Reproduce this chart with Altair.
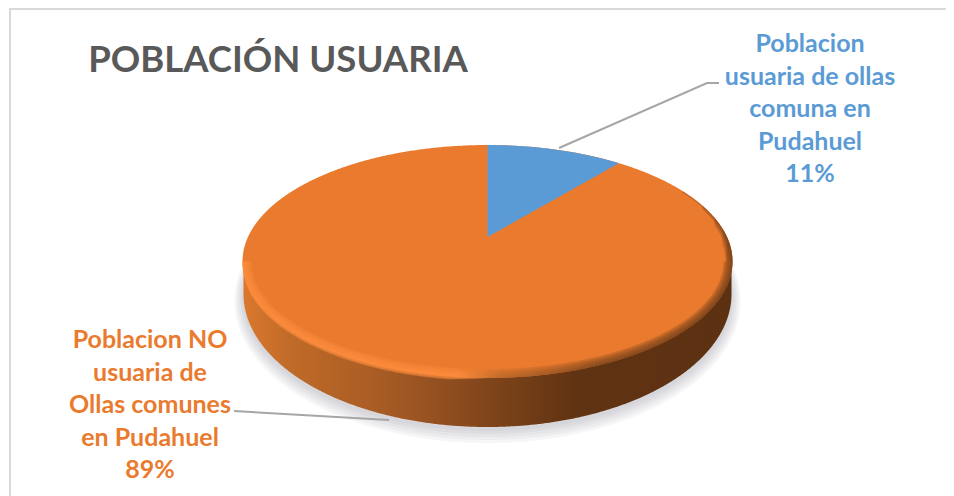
import numpy as np
import pandas as pd
import altair as alt

# ---- data
categories = ["Poblacion usuaria de ollas comuna en Pudahuel", "Poblacion NO usuaria de Ollas comunes en Pudahuel"]
shares = [11, 89]
label_lines = [
    ["Poblacion", "usuaria de ollas", "comuna en", "Pudahuel", "11%"],
    ["Poblacion NO", "usuaria de", "Ollas comunes", "en Pudahuel", "89%"],
]
chart_title = "POBLACIÓN USUARIA"
BLUE, ORANGE = "#5B9BD5", "#EA7B2E"

# ---- layout in page pixels
W, H = 938, 488
X0, Y0 = 8, 8
CX = 487.5
RX, CY, RY = 245.0, 261.5, 116.5      # top face ellipse
APEX_Y = 237.0                        # perspective image of the pie centre
K = 0.21                              # perspective strength
RX2, CY2, RY2 = 244.0, 294.0, 133.0   # bottom rim ellipse

xs = alt.Scale(domain=[X0, X0 + W], nice=False, zero=False)
ys = alt.Scale(domain=[Y0 + H, Y0], nice=False, zero=False)


def X(f="x"):
    return alt.X(f"{f}:Q", scale=xs, axis=None)


def Y(f="y"):
    return alt.Y(f"{f}:Q", scale=ys, axis=None)


def grid(rx, n=500):
    t = np.linspace(np.pi, 0, n)
    return rx * np.cos(t)


def arc(dx, rx, ry):
    return ry * np.sqrt(np.clip(1 - (dx / rx) ** 2, 0, 1))


def band(dx, top, bottom):
    return pd.DataFrame({"x": CX + dx, "y": top, "y2": bottom})


def area(df, **kw):
    return alt.Chart(df).mark_area(**kw).encode(x=X(), y=Y(), y2=alt.Y2("y2:Q"))


def hgrad(stops):
    return alt.LinearGradient(
        gradient="linear", x1=0, x2=1, y1=0, y2=0,
        stops=[alt.GradientStop(offset=o, color=c) for o, c in stops],
    )


layers = []

# soft shadow under the disc
for grow, drop in [(9, 7), (7, 6), (5, 5), (3, 4), (1, 3)]:
    dx = grid(RX2 + grow)
    h = arc(dx, RX2 + grow, RY2 + grow)
    layers.append(area(band(dx, CY2 - h + drop, CY2 + h + drop), color="#7C8090", opacity=0.07))

# side wall
dx = grid(RX2)
wall = hgrad([(0.0, "#DA782E"), (0.1, "#BF6A28"), (0.3, "#A55A24"), (0.5, "#80451B"), (0.68, "#603312"), (1.0, "#5C3112")])
layers.append(area(band(dx, np.full_like(dx, CY), CY2 + arc(dx, RX2, RY2)), color=wall))

# top face
dx = grid(RX)
h = arc(dx, RX, RY)
layers.append(area(band(dx, CY - h, CY + h), color=ORANGE))

# bevel along the near edge of the top face: bright on the left, dark on the right
rim = hgrad([(0.0, "#FF8E3E"), (0.44, "#FF8E3E"), (0.53, "#B8662A"), (0.72, "#7A431A"), (1.0, "#6E3C18")])
for t, spill in [(9, 0.0), (7, 1.0), (5, 2.0), (3, 2.5), (1.5, 3.0)]:
    dx = grid(RX)
    outer = arc(dx, RX, RY)
    inner = arc(dx, RX - t, RY - t)
    left = np.clip(-dx / 40, 0, 1) * np.clip(outer / 25, 0, 1)
    layers.append(area(band(dx, CY + inner, CY + outer + spill * left), color=rim, opacity=0.3))

# dark edge continuing up the far right of the top face, tapering away
for t, reach in [(9, 6), (7, 10), (5, 18), (3, 30), (1.5, 50)]:
    dx = np.linspace(RX - reach, RX, 120)
    outer = arc(dx, RX, RY)
    inner = arc(dx, RX - t, RY - t)
    layers.append(area(band(dx, CY - outer, CY - inner), color="#6E3C18", opacity=0.3))

# blue wedge: the share goes through the perspective of the tilted circle
R = RX * np.sqrt(1 - K ** 2)
a = 145 * (1 + K) - APEX_Y
theta = np.linspace(0, 2 * np.pi * shares[0] / 100, 80)
den = 1 + K * np.cos(theta)
wx = R * np.sin(theta) / den
wy = (a * np.cos(theta) + APEX_Y) / den
layers.append(area(band(wx, wy, APEX_Y + (wy[-1] - APEX_Y) * wx / wx[-1]), color=BLUE))

# leader lines
for lx, ly in [([559, 707, 719], [148, 83, 83]), ([234, 389], [411, 420])]:
    layers.append(
        alt.Chart(pd.DataFrame({"x": lx, "y": ly, "o": range(len(lx))}))
        .mark_line(color="#A6A6A6", strokeWidth=2)
        .encode(x=X(), y=Y(), order="o:O")
    )

# chart frame
frame = "#D9D9D9"
layers.append(
    alt.Chart(pd.DataFrame({"x": [10], "y": [8], "y2": [496]}))
    .mark_rule(color=frame, strokeWidth=2)
    .encode(x=X(), y=Y(), y2="y2:Q")
)
layers.append(
    alt.Chart(pd.DataFrame({"x": [9], "x2": [946], "y": [9]}))
    .mark_rule(color=frame, strokeWidth=2)
    .encode(x=X(), x2="x2:Q", y=Y())
)

# title
layers.append(
    alt.Chart(pd.DataFrame({"x": [278], "y": [61], "t": [chart_title]}))
    .mark_text(font="Lato", fontWeight="bold", fontSize=36.5, color="#595959", baseline="middle", align="center")
    .encode(x=X(), y=Y(), text="t:N")
)

# data labels
for (cx, top, col), lines in zip([(810, 44, BLUE), (150, 340, ORANGE)], label_lines):
    layers.append(
        alt.Chart(pd.DataFrame({"x": cx, "y": [top + 32.5 * i for i in range(len(lines))], "t": lines}))
        .mark_text(font="Lato", fontWeight="bold", fontSize=25, color=col, baseline="middle", align="center")
        .encode(x=X(), y=Y(), text="t:N")
    )

chart = (
    alt.layer(*layers)
    .properties(width=W, height=H, padding=0, autosize=alt.AutoSizeParams(type="none"), background="white")
    .configure_view(stroke=None)
)
chart.save("out.html", embed_options={"renderer": "svg", "actions": False})
